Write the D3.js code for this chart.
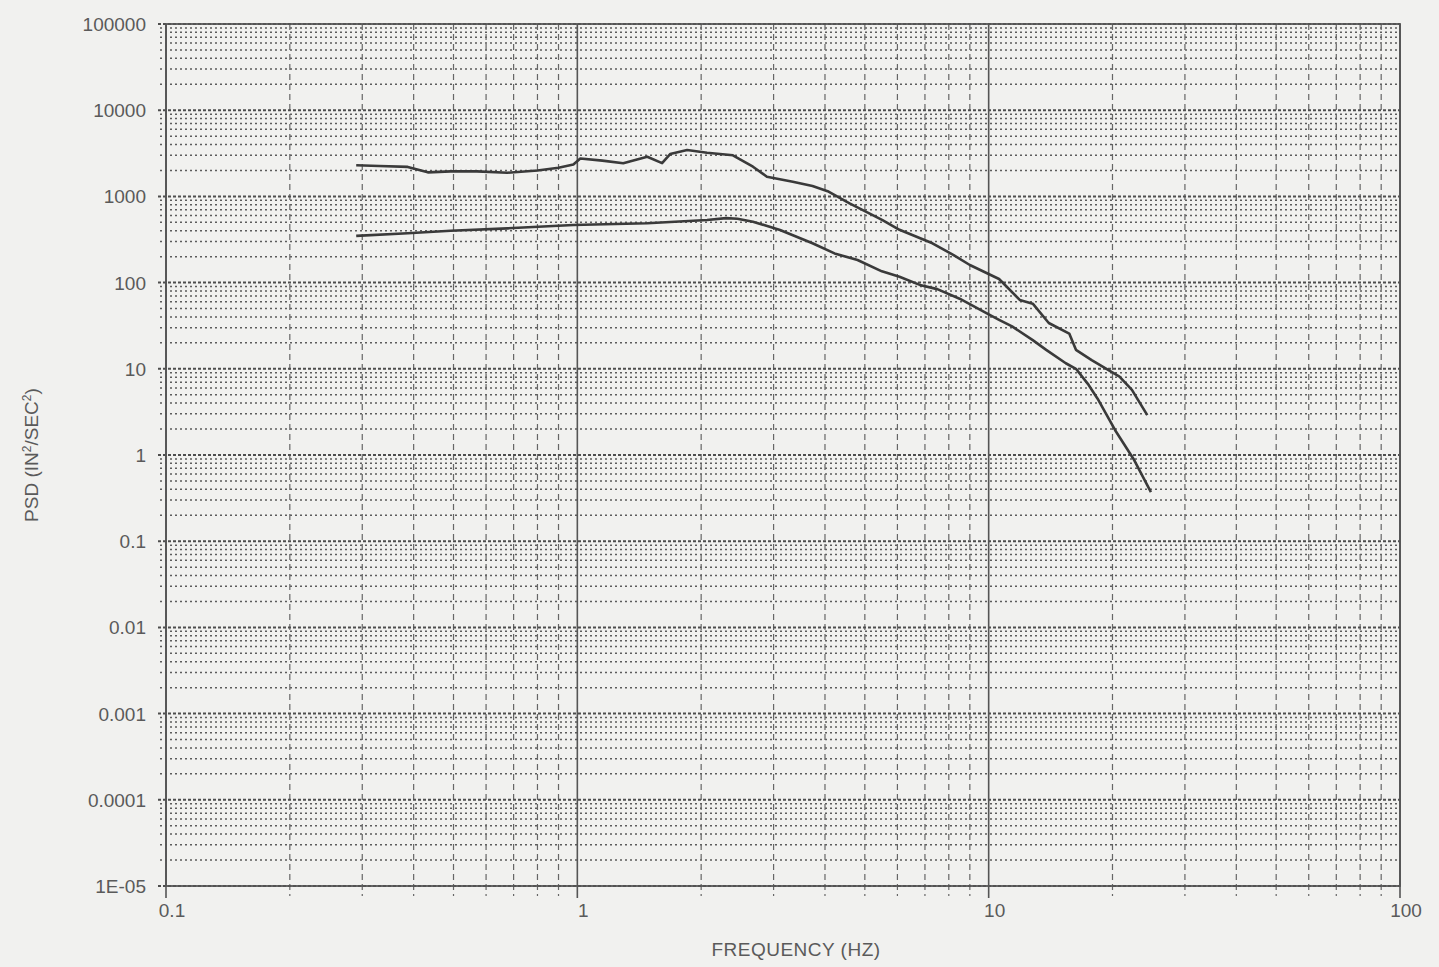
<!DOCTYPE html>
<html>
<head>
<meta charset="utf-8">
<script src="https://cdn.jsdelivr.net/npm/d3@7"></script>
<style>
  html, body { margin: 0; padding: 0; background: #f1f1ef; }
  svg { display: block; }
  text { font-family: "Liberation Sans", Arial, sans-serif; fill: #5a5a5a; }
</style>
</head>
<body>
<svg id="chart" width="1439" height="967"></svg>
<script>
// ---- data ----
const upperFreq = [0.29, 0.33, 0.387, 0.433, 0.492, 0.57, 0.676, 0.80, 0.90, 0.978, 1.017, 1.15, 1.293, 1.479, 1.607, 1.681, 1.849, 2.067, 2.389, 2.673, 2.89, 3.34, 3.73, 4.06, 4.59, 5.52, 6.07, 7.30, 8.2, 9.0, 10.6, 11.9, 12.8, 14.0, 15.7, 16.3, 17.8, 20.8, 22.3, 24.3];
const upperPSD  = [2300, 2250, 2200, 1900, 1950, 1950, 1880, 2000, 2150, 2350, 2750, 2600, 2420, 2880, 2430, 3100, 3450, 3210, 3000, 2210, 1690, 1480, 1320, 1150, 830, 530, 410, 286, 210, 160, 110, 63, 57, 34, 25.6, 16.6, 12.6, 8.1, 5.7, 2.9];

const lowerFreq = [0.29, 0.387, 0.492, 0.676, 0.978, 1.479, 2.067, 2.3, 2.45, 2.673, 3.11, 3.73, 4.22, 4.8, 5.5, 6.07, 6.8, 7.5, 8.5, 9.9, 10.6, 11.4, 12.8, 13.8, 15.4, 16.3, 17.5, 18.4, 20.3, 22.5, 24.8];
const lowerPSD  = [348, 373, 400, 426, 466, 488, 532, 560, 550, 509, 408, 286, 218, 183, 135, 117, 94, 84, 65, 44, 37, 31, 21.5, 16.6, 11.6, 10, 6.5, 4.5, 1.94, 0.9, 0.37];

const xTickValues = [0.1, 1, 10, 100];
const xTickLabels = ["0.1", "1", "10", "100"];
const yTickValues = [1e5, 1e4, 1e3, 1e2, 1e1, 1, 0.1, 0.01, 0.001, 0.0001, 0.00001];
const yTickLabels = ["100000", "10000", "1000", "100", "10", "1", "0.1", "0.01", "0.001", "0.0001", "1E-05"];

const xTitle = "FREQUENCY (HZ)";

(function () {
  // ---- layout ----
  const pL = 166, pR = 1400, pT = 24, pB = 886;
  const svg = d3.select("#chart");

  const x = d3.scaleLog().domain([0.1, 100]).range([pL, pR]);
  const y = d3.scaleLog().domain([1e-5, 1e5]).range([pB, pT]);

  const isMajor = v => Math.abs(Math.log10(v) - Math.round(Math.log10(v))) < 1e-6;

  const xAll = x.ticks(10);
  const yAll = y.ticks(20);

  const g = svg.append("g");

  // horizontal minor grid (dotted)
  g.selectAll("line.hmin").data(yAll.filter(v => !isMajor(v))).enter().append("line")
    .attr("x1", pL - 6).attr("x2", pR)
    .attr("y1", d => y(d)).attr("y2", d => y(d))
    .attr("stroke", "#5c5c5c").attr("stroke-width", 1.5)
    .attr("stroke-dasharray", "2,3");

  // vertical minor grid (dashed)
  g.selectAll("line.vmin").data(xAll.filter(v => !isMajor(v))).enter().append("line")
    .attr("x1", d => x(d)).attr("x2", d => x(d))
    .attr("y1", pT).attr("y2", pB + 10)
    .attr("stroke", "#666").attr("stroke-width", 1.2)
    .attr("stroke-dasharray", "6,4");

  // horizontal major grid
  g.selectAll("line.hmaj").data(yAll.filter(isMajor)).enter().append("line")
    .attr("x1", pL - 8).attr("x2", pR)
    .attr("y1", d => y(d)).attr("y2", d => y(d))
    .attr("stroke", "#4e4e4e").attr("stroke-width", 2)
    .attr("stroke-dasharray", "3,2");

  // vertical major grid
  g.selectAll("line.vmaj").data(xAll.filter(isMajor)).enter().append("line")
    .attr("x1", d => x(d)).attr("x2", d => x(d))
    .attr("y1", pT).attr("y2", pB + 12)
    .attr("stroke", "#555").attr("stroke-width", 1.6);

  // frame
  g.append("rect").attr("x", pL).attr("y", pT)
    .attr("width", pR - pL).attr("height", pB - pT)
    .attr("fill", "none").attr("stroke", "#555").attr("stroke-width", 1.8);

  // y tick labels
  svg.selectAll("text.ylab").data(yTickValues).enter().append("text")
    .attr("x", pL - 20).attr("y", d => y(d) + 7)
    .attr("text-anchor", "end").attr("font-size", 19)
    .text((d, i) => yTickLabels[i]);

  // x tick labels
  svg.selectAll("text.xlab").data(xTickValues).enter().append("text")
    .attr("x", d => x(d) + 6).attr("y", pB + 31)
    .attr("text-anchor", "middle").attr("font-size", 19)
    .text((d, i) => xTickLabels[i]);

  // axis titles
  svg.append("text").attr("x", 796).attr("y", 956)
    .attr("text-anchor", "middle").attr("font-size", 19)
    .attr("letter-spacing", "0.5")
    .text(xTitle);

  const yt = svg.append("text")
    .attr("transform", "translate(38,455) rotate(-90)")
    .attr("text-anchor", "middle").attr("font-size", 19);
  yt.append("tspan").text("PSD (IN");
  yt.append("tspan").attr("baseline-shift", "super").attr("font-size", 12).text("2");
  yt.append("tspan").text("/SEC");
  yt.append("tspan").attr("baseline-shift", "super").attr("font-size", 12).text("2");
  yt.append("tspan").text(")");

  // curves
  const line = d3.line().x(d => x(d[0])).y(d => y(d[1]));
  const upper = d3.zip(upperFreq, upperPSD);
  const lower = d3.zip(lowerFreq, lowerPSD);

  svg.append("path").datum(upper).attr("d", line)
    .attr("fill", "none").attr("stroke", "#3a3a3a").attr("stroke-width", 2.6)
    .attr("stroke-linejoin", "round");
  svg.append("path").datum(lower).attr("d", line)
    .attr("fill", "none").attr("stroke", "#3a3a3a").attr("stroke-width", 2.6)
    .attr("stroke-linejoin", "round");
})();
</script>
</body>
</html>
